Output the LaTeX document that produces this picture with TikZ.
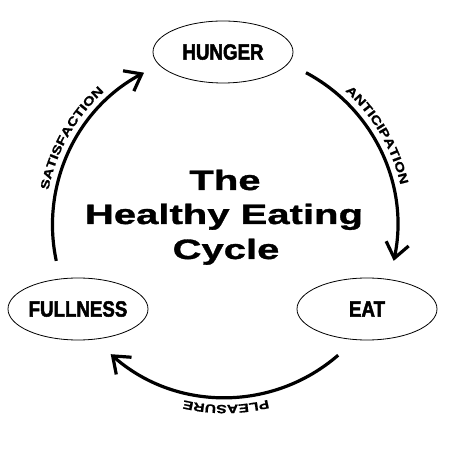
\documentclass[tikz,border=0pt]{standalone}
\usepackage{fontspec}
\usetikzlibrary{arrows.meta,shapes.geometric,decorations.text,calc}
\newfontfamily\titlefont[FakeStretch=1.43,FakeBold=1.2]{Liberation Sans}
\newfontfamily\boxfont[FakeStretch=0.85,FakeBold=2.2]{Liberation Sans}
\newfontfamily\arcfont[FakeStretch=1.3,FakeBold=1]{Liberation Sans}
\newcommand\titlesize{\titlefont\bfseries\fontsize{28bp}{34bp}\selectfont}
\newcommand\boxsize{\boxfont\bfseries\fontsize{22bp}{26bp}\selectfont}
\newcommand\arcsize{\arcfont\bfseries\fontsize{12bp}{14bp}\selectfont}
\tikzset{
  stage/.style={draw, ellipse, line width=0.8bp, minimum width=140bp, minimum height=62bp, inner sep=0pt, font=\boxsize},
  cyclearrow/.style={line width=3.2bp, -{Straight Barb[length=15bp,width=23bp]}},
  titleline/.style={anchor=base, inner sep=0pt, font=\titlesize},
  arclabel/.style={decorate, decoration={text along path, text align=center, text={|\arcsize|#1}}}
}
\begin{document}
\begin{tikzpicture}
\path[use as bounding box, fill=white] (0,0) rectangle (450bp,450bp);
\coordinate (c) at (225bp,225bp);
% stages
\node[stage] (hunger) at (223bp,398bp) {HUNGER};
\node[stage] (eat) at (367bp,141bp) {EAT};
\node[stage] (fullness) at (78bp,141bp) {FULLNESS};
% title
\node[titleline] (t1) at (225bp,260bp) {The};
\node[titleline] (t2) at (224bp,226bp) {Healthy Eating};
\node[titleline] (t3) at (226bp,191bp) {Cycle};
% arrow start points
\coordinate (s1) at ($(c)+(62:172.5bp)$);
\coordinate (s2) at ($(c)+(-49:172.5bp)$);
\coordinate (s3) at ($(c)+(192:172.5bp)$);
\draw[cyclearrow] (s1) arc[start angle=62, end angle=-12, radius=172.5bp];
\draw[cyclearrow] (s2) arc[start angle=-49, end angle=-131.5, radius=172.5bp];
\draw[cyclearrow] (s3) arc[start angle=192, end angle=118, radius=172.5bp];
% labels along arcs
\coordinate (l1) at ($(c)+(60.5:180bp)$);
\coordinate (l2) at ($(c)+(-59.7:180bp)$);
\coordinate (l3) at ($(c)+(180.5:180bp)$);
\path[arclabel=ANTICIPATION] (l1) arc[start angle=60.5, end angle=0.5, radius=180bp];
\path[arclabel=PLEASURE] (l2) arc[start angle=-59.7, end angle=-119.7, radius=180bp];
\path[arclabel=SATISFACTION] (l3) arc[start angle=180.5, end angle=120.5, radius=180bp];
\end{tikzpicture}
\end{document}
